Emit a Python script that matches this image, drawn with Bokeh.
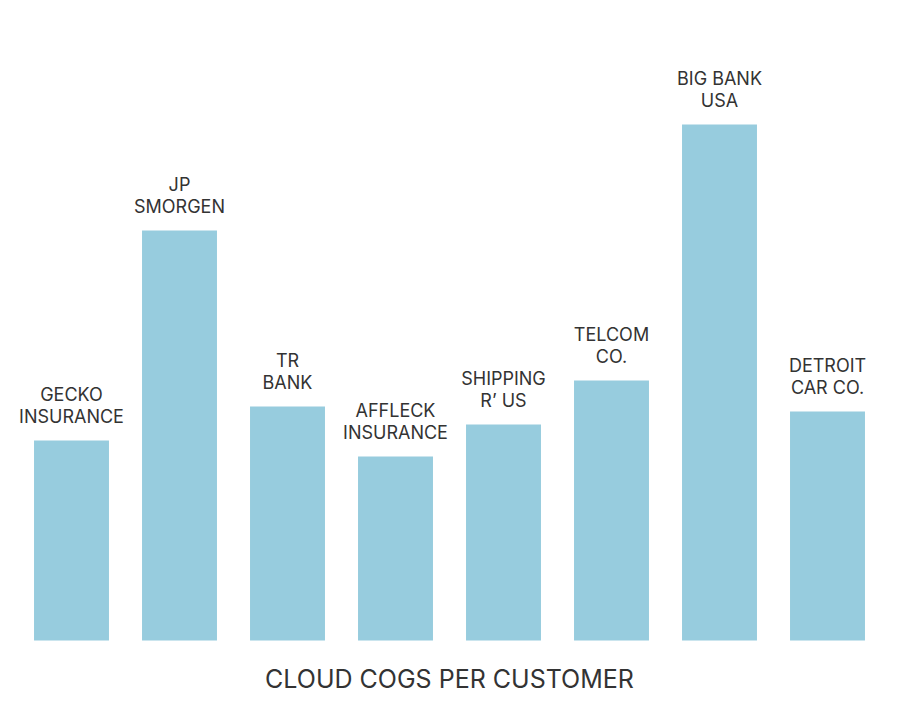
from bokeh.plotting import figure
from bokeh.models import ColumnDataSource, Range1d, Label
from bokeh.embed import file_html
from bokeh.resources import INLINE
from bokeh.core.properties import value

customers = ["GECKO\nINSURANCE", "JP\nSMORGEN", "TR\nBANK", "AFFLECK\nINSURANCE",
             "SHIPPING\nR\u2019 US", "TELCOM\nCO.", "BIG BANK\nUSA", "DETROIT\nCAR CO."]
cogs = [200, 410, 234, 184, 216, 260, 516, 229]
title_text = "CLOUD COGS PER CUSTOMER"

xs = list(range(len(customers)))
src = ColumnDataSource(dict(x=xs, top=cogs, label=customers))

p = figure(width=892, height=702, output_backend="svg", toolbar_location=None,
           x_range=Range1d(-0.5, len(customers) - 0.5), y_range=Range1d(-60, 620),
           min_border_left=17, min_border_right=11, min_border_top=20, min_border_bottom=2)
p.axis.visible = False
p.grid.visible = False
p.outline_line_color = None
p.background_fill_color = "white"

p.vbar(x="x", top="top", bottom=0, width=0.694, source=src,
       fill_color="#97CCDE", line_color=None)

p.text(x="x", y="top", text="label", source=src, text_align="center",
       text_baseline="bottom", y_offset=-13, text_font=value("Inter"),
       text_font_size="18px", text_color="#333333", text_line_height=1.05)

p.add_layout(Label(x=3.5, y=-38, text=title_text, text_align="center",
                   text_baseline="middle", text_font="Inter", text_font_size="25px",
                   text_color="#333333"))

open("out.html", "w").write(file_html(p, INLINE))
